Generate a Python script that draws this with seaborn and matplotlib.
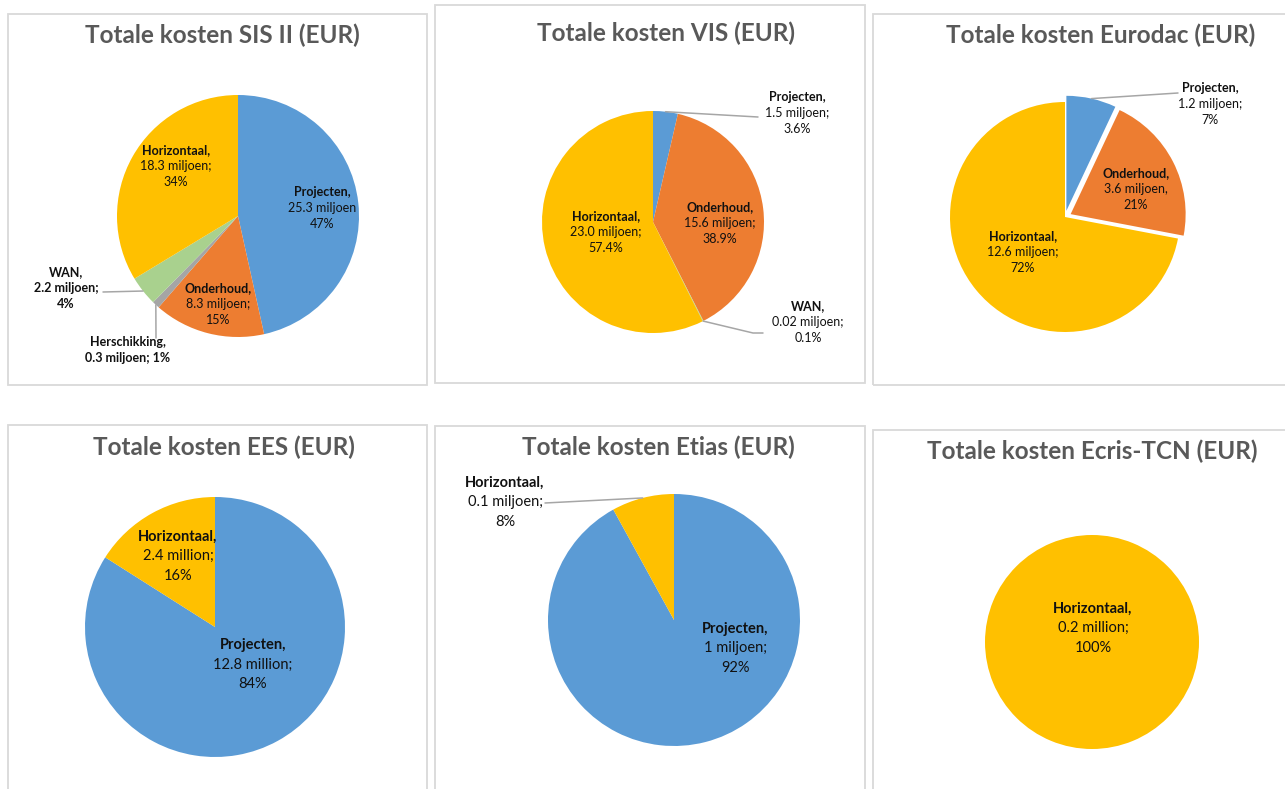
import matplotlib
matplotlib.use("Agg")
from matplotlib import pyplot as plt
from matplotlib.patches import Rectangle
import seaborn as sns
import numpy as np

# SIS II
sis_names = ['Projecten', 'Onderhoud', 'Herschikking', 'WAN', 'Horizontaal']
sis_amounts = ['25.3 miljoen', '8.3 miljoen;', '0.3 miljoen;', '2.2 miljoen;', '18.3 miljoen;']
sis_pct = [47, 15, 1, 4, 34]

# VIS
vis_names = ['Projecten', 'Onderhoud', 'WAN', 'Horizontaal']
vis_amounts = ['1.5 miljoen;', '15.6 miljoen;', '0.02 miljoen;', '23.0 miljoen;']
vis_pct = [3.6, 38.9, 0.1, 57.4]

# Eurodac
eurodac_names = ['Projecten', 'Onderhoud', 'Horizontaal']
eurodac_amounts = ['1.2 miljoen;', '3.6 miljoen,', '12.6 miljoen;']
eurodac_pct = [7, 21, 72]

# EES
ees_names = ['Projecten', 'Horizontaal']
ees_amounts = ['12.8 million;', '2.4 million;']
ees_pct = [84, 16]

# Etias
etias_names = ['Projecten', 'Horizontaal']
etias_amounts = ['1 miljoen;', '0.1 miljoen;']
etias_pct = [92, 8]

# Ecris-TCN
ecris_names = ['Horizontaal']
ecris_amounts = ['0.2 million;']
ecris_pct = [100]

colors = {'Projecten': '#5B9BD5', 'Onderhoud': '#ED7D31', 'Herschikking': '#A5A5A5',
          'WAN': '#A9D18E', 'Horizontaal': '#FFC000'}

sns.set_theme(style='white')
plt.rcParams['font.family'] = ['Lato', 'DejaVu Sans']

W, H = 1285, 789
fig = plt.figure(figsize=(W / 100, H / 100), dpi=100)
ax = fig.add_axes([0, 0, 1, 1])


def py(y):
    return H - y


# layout per chart (pixel positions, y measured from top)
charts = [
    dict(title='Totale kosten SIS II (EUR)', names=sis_names, amounts=sis_amounts, pct=sis_pct,
         center=(238, 216), r=121, tpos=(222, 35), box=(8, 14, 427, 385), fs=9, lh=16,
         inside={'Projecten': (322, 208), 'Onderhoud': (218, 304), 'Horizontaal': (176, 166)},
         outside={'WAN': ((66, 288), [(103, 292)]),
                  'Herschikking': ((128, 350), [(156, 338)])},
         bold_all=['WAN', 'Herschikking']),
    dict(title='Totale kosten VIS (EUR)', names=vis_names, amounts=vis_amounts, pct=vis_pct,
         center=(653, 222), r=111, tpos=(666, 33), box=(435, 5, 865, 383), fs=9, lh=16,
         inside={'Onderhoud': (720, 223), 'Horizontaal': (606, 232)},
         outside={'Projecten': ((797, 113), [(758, 117)]),
                  'WAN': ((808, 322), [(753, 333), (763, 333)])}),
    dict(title='Totale kosten Eurodac (EUR)', names=eurodac_names, amounts=eurodac_amounts,
         pct=eurodac_pct, explode=[0.055, 0.055, 0],
         center=(1065, 217), r=115, tpos=(1101, 35), box=(873, 14, 1292, 385), fs=9, lh=16,
         inside={'Onderhoud': (1136, 189), 'Horizontaal': (1023, 252)},
         outside={'Projecten': ((1210, 104), [(1178, 93)])}),
    dict(title='Totale kosten EES (EUR)', names=ees_names, amounts=ees_amounts, pct=ees_pct,
         center=(215, 627), r=130, tpos=(224, 447), box=(8, 425, 427, 800), fs=10.5, lh=19.5,
         inside={'Horizontaal': (178, 556), 'Projecten': (253, 665)}, outside={}),
    dict(title='Totale kosten Etias (EUR)', names=etias_names, amounts=etias_amounts, pct=etias_pct,
         center=(674, 620), r=126, tpos=(658, 447), box=(435, 426, 865, 800), fs=10.5, lh=19.5,
         inside={'Projecten': (735, 648)},
         outside={'Horizontaal': ((505, 502), [(545, 503)])}),
    dict(title='Totale kosten Ecris-TCN (EUR)', names=ecris_names, amounts=ecris_amounts,
         pct=ecris_pct, center=(1092, 642), r=107, tpos=(1092, 451), box=(873, 430, 1292, 800),
         fs=10.5, lh=19.5, inside={'Horizontaal': (1093, 628)}, outside={}),
]


def draw_label(x, y, lines, fs, lh, bold_all):
    n = len(lines)
    y0 = y - (n - 1) / 2 * lh
    for k, line in enumerate(lines):
        ax.text(x, py(y0 + k * lh), line, ha='center', va='center', fontsize=fs,
                color='#111111', fontweight='bold' if (k == 0 or bold_all) else 'normal')


for c in charts:
    x0, y0, x1, y1 = c['box']
    ax.add_patch(Rectangle((x0, py(y1)), x1 - x0, y1 - y0, fill=False,
                           edgecolor='#D9D9D9', linewidth=1.3))
    ax.text(c['tpos'][0], py(c['tpos'][1]), c['title'], ha='center', va='center',
            fontsize=17.5, fontweight='bold', color='#595959')

    cols = [colors[n] for n in c['names']]
    explode = None
    if 'explode' in c:
        # pie explodes in data units, which are pixels here
        explode = [e * c['r'] for e in c['explode']]
    wedges, _ = ax.pie(c['pct'], colors=cols, startangle=90, counterclock=False,
                       center=(c['center'][0], py(c['center'][1])), radius=c['r'],
                       explode=explode, frame=True,
                       wedgeprops=dict(linewidth=0))

    bold_all = c.get('bold_all', [])
    for name, amount, p, w in zip(c['names'], c['amounts'], c['pct'], wedges):
        if name == 'Herschikking':
            lines = [name + ',', f'{amount} {p:g}%']
        else:
            lines = [name + ',', amount, f'{p:g}%']
        if name in c['inside']:
            lx, ly = c['inside'][name]
            draw_label(lx, ly, lines, c['fs'], c['lh'], name in bold_all)
        elif name in c['outside']:
            (lx, ly), knees = c['outside'][name]
            draw_label(lx, ly, lines, c['fs'], c['lh'], name in bold_all)
            mid = np.deg2rad((w.theta1 + w.theta2) / 2)
            ex = w.center[0] + w.r * np.cos(mid)
            ey = w.center[1] + w.r * np.sin(mid)
            xs = [ex] + [k[0] for k in knees]
            ys = [ey] + [py(k[1]) for k in knees]
            ax.plot(xs, ys, color='#A6A6A6', linewidth=1.1, zorder=3)

ax.set_xlim(0, W)
ax.set_ylim(0, H)
ax.set_aspect('equal')
ax.axis('off')

fig.savefig('out.png', dpi=100)
